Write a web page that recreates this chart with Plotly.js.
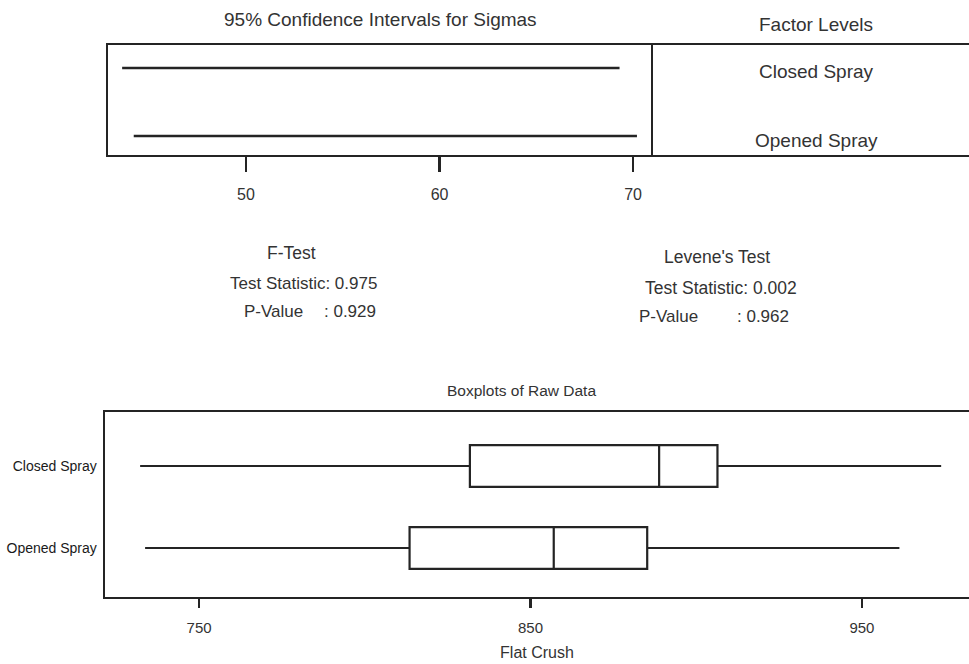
<!DOCTYPE html>
<html>
<head>
<meta charset="utf-8">
<script src="https://cdn.plot.ly/plotly-3.0.1.min.js"></script>
<style>
  html, body { margin: 0; padding: 0; background: #ffffff; }
  #chart { width: 969px; height: 664px; }
</style>
</head>
<body>
<div id="chart"></div>
<script>
// Factor levels
const levels = ['Closed Spray', 'Opened Spray'];

// 95% confidence intervals for sigma, one per level
const sigmaLower = [43.6, 44.2];
const sigmaUpper = [69.3, 70.2];
const sigmaTicks = [50, 60, 70];

// Five-number summaries of Flat Crush, one per level
const crushMin    = [732.2, 733.7];
const crushQ1     = [831.7, 813.5];
const crushMedian = [888.8, 857.0];
const crushQ3     = [906.4, 885.2];
const crushMax    = [973.9, 961.3];
const crushTicks  = [750, 850, 950];

// Test results
const fTestStat = 0.975;
const fTestP = 0.929;
const leveneStat = 0.002;
const leveneP = 0.962;

const W = 969, H = 664;
const px = x => x / W;
const py = y => 1 - y / H;

const ink = '#242424';
const textInk = '#333333';
const levelOrder = levels.slice().reverse();

const traces = [];

// Confidence interval segments
levels.forEach((lv, i) => {
  traces.push({
    type: 'scatter', mode: 'lines',
    x: [sigmaLower[i], sigmaUpper[i]],
    y: [lv, lv],
    xaxis: 'x', yaxis: 'y',
    line: { color: ink, width: 2.6 },
    hoverinfo: 'skip', showlegend: false
  });
});

// Empty trace so the factor-level panel gets its own frame
traces.push({
  type: 'scatter', mode: 'markers', x: [], y: [],
  xaxis: 'x2', yaxis: 'y', hoverinfo: 'skip', showlegend: false
});

// Horizontal boxplots
levels.forEach((lv, i) => {
  traces.push({
    type: 'box', orientation: 'h',
    y: [lv],
    q1: [crushQ1[i]], median: [crushMedian[i]], q3: [crushQ3[i]],
    lowerfence: [crushMin[i]], upperfence: [crushMax[i]],
    xaxis: 'x3', yaxis: 'y3',
    fillcolor: '#ffffff',
    line: { color: ink, width: 2.2 },
    whiskerwidth: 0, width: 0.51,
    boxpoints: false, hoverinfo: 'skip', showlegend: false
  });
});

const txt = (text, x, y, size, xanchor) => ({
  text, x, y, xref: 'paper', yref: 'paper', showarrow: false,
  xanchor: xanchor || 'center', yanchor: 'middle',
  font: { size, color: textInk }
});

const annotations = [
  txt('95% Confidence Intervals for Sigmas', px(380), py(19), 19),
  txt('Factor Levels', px(816), py(24), 19),
  txt('F-Test', px(291), py(253), 17.5),
  txt('Test Statistic: ' + fTestStat.toFixed(3), px(303), py(283), 17),
  txt('P-Value', px(242), py(311), 17, 'left'),
  txt(': ' + fTestP.toFixed(3), px(322), py(311), 17, 'left'),
  txt("Levene's Test", px(717), py(257), 17.5),
  txt('Test Statistic: ' + leveneStat.toFixed(3), px(721), py(288), 17.5),
  txt('P-Value', px(637), py(317), 17, 'left'),
  txt(': ' + leveneP.toFixed(3), px(735), py(317), 17, 'left'),
  txt('Boxplots of Raw Data', px(521), py(390), 15.5)
];

// Level names inside the factor-level panel
levels.forEach(lv => {
  annotations.push({
    text: lv, x: 0.52, y: lv, xref: 'x2', yref: 'y', yshift: -4,
    showarrow: false, xanchor: 'center', yanchor: 'middle',
    font: { size: 19, color: textInk }
  });
});

const frame = { showline: true, mirror: true, linecolor: ink, linewidth: 2.4,
                showgrid: false, zeroline: false, fixedrange: true };

const layout = {
  width: W, height: H,
  margin: { l: 0, r: 0, t: 0, b: 0 },
  paper_bgcolor: '#ffffff', plot_bgcolor: '#ffffff',
  font: { family: 'Liberation Sans, Arial, sans-serif', color: textInk },
  showlegend: false,
  xaxis: Object.assign({}, frame, {
    domain: [px(108), px(650.7)], anchor: 'y',
    range: [42.87, 70.91],
    tickmode: 'array', tickvals: sigmaTicks,
    ticks: 'outside', ticklen: 15, tickwidth: 2.4, tickcolor: ink,
    ticklabelstandoff: 8,
    tickfont: { size: 16, color: textInk }
  }),
  yaxis: Object.assign({}, frame, {
    domain: [py(155), py(45)], anchor: 'x',
    type: 'category', categoryorder: 'array', categoryarray: levelOrder,
    range: [-0.279, 1.338],
    showticklabels: false, ticks: ''
  }),
  xaxis2: Object.assign({}, frame, {
    domain: [px(650.7), 1], anchor: 'y',
    range: [0, 1], showticklabels: false, ticks: ''
  }),
  xaxis3: Object.assign({}, frame, {
    domain: [px(105), 1], anchor: 'y3',
    range: [721.6, 982.3],
    tickmode: 'array', tickvals: crushTicks,
    ticks: 'outside', ticklen: 9, tickwidth: 2.4, tickcolor: ink,
    ticklabelstandoff: 7,
    tickfont: { size: 15, color: textInk },
    title: { text: 'Flat Crush', font: { size: 16, color: textInk }, standoff: 12 }
  }),
  yaxis3: Object.assign({}, frame, {
    domain: [py(597), py(412)], anchor: 'x3',
    type: 'category', categoryorder: 'array', categoryarray: levelOrder,
    range: [-0.598, 1.659],
    ticks: '', ticklabelstandoff: 3,
    tickfont: { size: 14, color: '#1a1a1a' }
  }),
  annotations
};

Plotly.newPlot('chart', traces, layout, { staticPlot: true, displayModeBar: false });
</script>
</body>
</html>
